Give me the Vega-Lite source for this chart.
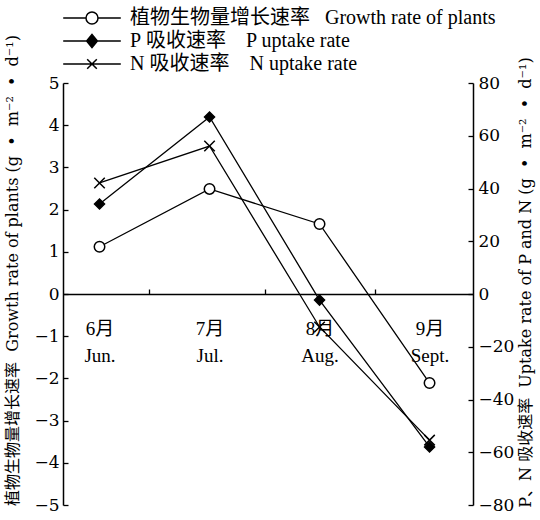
{
  "$schema": "https://vega.github.io/schema/vega-lite/v6.json",
  "width": 410,
  "height": 422,
  "autosize": {"type": "none"},
  "padding": {"left": 63, "top": 83, "right": 67, "bottom": 15},
  "background": "white",
  "config": {
    "view": {"stroke": null},
    "axis": {
      "labelFont": "DejaVu Serif",
      "titleFont": "DejaVu Serif, Noto Sans CJK SC",
      "labelColor": "black",
      "titleColor": "black",
      "domainColor": "black",
      "tickColor": "black",
      "grid": false,
      "labelFontSize": 17,
      "titleFontSize": 16,
      "titleFontWeight": "normal",
      "titleLimit": 800,
      "domainWidth": 1.5,
      "tickWidth": 1.3
    },
    "legend": {
      "symbolOpacity": 1,
      "symbolStrokeWidth": 1.5,
      "orient": "none",
      "legendX": 19,
      "legendY": -75,
      "title": null,
      "padding": 0,
      "rowPadding": 3,
      "symbolSize": 144,
      "labelOffset": 28,
      "labelFont": "Liberation Serif, Noto Sans CJK SC",
      "labelFontSize": 20,
      "labelColor": "black",
      "labelLimit": 500
    }
  },
  "data": {
    "values": [
      {"month": 6, "series": "G", "value": 1.12},
      {"month": 7, "series": "G", "value": 2.49},
      {"month": 8, "series": "G", "value": 1.66},
      {"month": 9, "series": "G", "value": -2.11},
      {"month": 6, "series": "P", "value": 34.1},
      {"month": 7, "series": "P", "value": 67.1},
      {"month": 8, "series": "P", "value": -2.3},
      {"month": 9, "series": "P", "value": -58},
      {"month": 6, "series": "N", "value": 42.1},
      {"month": 7, "series": "N", "value": 56.1},
      {"month": 8, "series": "N", "value": -12.5},
      {"month": 9, "series": "N", "value": -55.4}
    ]
  },
  "encoding": {
    "x": {
      "field": "month",
      "type": "quantitative",
      "scale": {"domain": [5.668, 9.395], "nice": false, "zero": false},
      "axis": {
        "title": null,
        "values": [6, 6.45, 7, 7.5, 8, 8.5, 9],
        "labelExpr": "datum.value==6?['6月','Jun.']:datum.value==7?['7月','Jul.']:datum.value==8?['8月','Aug.']:datum.value==9?['9月','Sept.']:''",
        "offset": -211,
        "tickSize": -5,
        "tickOpacity": {"condition": {"test": "datum.value % 1 !== 0", "value": 1}, "value": 0},
        "labelPadding": 30,
        "labelLineHeight": 27,
        "labelFont": "Liberation Serif, Noto Sans CJK SC",
        "labelFontSize": 19,
        "labelFlush": false,
        "labelOverlap": false
      }
    }
  },
  "layer": [
    {
      "encoding": {
        "y": {
          "field": "value",
          "type": "quantitative",
          "scale": {"domain": [-5, 5], "nice": false},
          "axis": {
            "orient": "left",
            "values": [-5, -4, -3, -2, -1, 0, 1, 2, 3, 4, 5],
            "tickSize": -5,
            "labelPadding": 9,
            "title": "植物生物量增长速率\u00a0\u00a0Growth rate of plants (g\u00a0\u00a0•\u00a0\u00a0m⁻²\u00a0\u00a0•\u00a0\u00a0d⁻¹)",
            "titleAngle": 270,
            "titleX": -51,
            "titleY": 187,
            "titleBaseline": "middle"
          }
        }
      },
      "layer": [
        {
          "transform": [{"filter": "datum.series == 'G'"}],
          "mark": {"type": "line", "color": "black", "strokeWidth": 1.3}
        },
        {
          "transform": [{"filter": "datum.series == 'G'"}],
          "mark": {"type": "point", "shape": "circle", "filled": true, "fill": "white", "stroke": "black", "strokeWidth": 1.5, "opacity": 1, "size": 110}
        },
        {
          "mark": {"type": "point", "filled": true, "strokeWidth": 1.5, "opacity": 0, "size": 144},
          "encoding": {
            "shape": {
              "field": "series", "type": "nominal",
              "scale": {"domain": ["G", "P", "N"], "range": [
                "M-4.8,0H-1M1,0H4.8M-1,0A1,1 0 1,0 1,0A1,1 0 1,0 -1,0Z",
                "M-4.8,0H4.8M0,-1.1L0.9,0L0,1.1L-0.9,0Z",
                "M-4.8,0H4.8M-0.8,-0.8L0.8,0.8M-0.8,0.8L0.8,-0.8"
              ]},
              "legend": {
                "labelExpr": "datum.value=='G'?'植物生物量增长速率\u00a0\u00a0\u00a0Growth rate of plants':datum.value=='P'?'P\u00a0吸收速率\u00a0\u00a0\u00a0\u00a0P uptake rate':'N\u00a0吸收速率\u00a0\u00a0\u00a0\u00a0N uptake rate'"
              }
            },
            "fill": {
              "field": "series", "type": "nominal",
              "scale": {"domain": ["G", "P", "N"], "range": ["white", "black", "transparent"]},
              "legend": {
                "labelExpr": "datum.value=='G'?'植物生物量增长速率\u00a0\u00a0\u00a0Growth rate of plants':datum.value=='P'?'P\u00a0吸收速率\u00a0\u00a0\u00a0\u00a0P uptake rate':'N\u00a0吸收速率\u00a0\u00a0\u00a0\u00a0N uptake rate'"
              }
            },
            "stroke": {
              "field": "series", "type": "nominal",
              "scale": {"domain": ["G", "P", "N"], "range": ["black", "black", "black"]},
              "legend": {
                "labelExpr": "datum.value=='G'?'植物生物量增长速率\u00a0\u00a0\u00a0Growth rate of plants':datum.value=='P'?'P\u00a0吸收速率\u00a0\u00a0\u00a0\u00a0P uptake rate':'N\u00a0吸收速率\u00a0\u00a0\u00a0\u00a0N uptake rate'"
              }
            }
          }
        }
      ]
    },
    {
      "encoding": {
        "y": {
          "field": "value",
          "type": "quantitative",
          "scale": {"domain": [-80, 80], "nice": false},
          "axis": {
            "orient": "right",
            "values": [-80, -60, -40, -20, 0, 20, 40, 60, 80],
            "tickSize": -5,
            "labelPadding": 10,
            "title": "P、N 吸收速率\u00a0\u00a0Uptake rate of P and N (g\u00a0\u00a0•\u00a0\u00a0m⁻²\u00a0\u00a0•\u00a0\u00a0d⁻¹)",
            "titleAngle": 270,
            "titleX": 52,
            "titleY": 199,
            "titleBaseline": "middle"
          }
        }
      },
      "layer": [
        {
          "transform": [{"filter": "datum.series != 'G'"}],
          "mark": {"type": "line", "color": "black", "strokeWidth": 1.3},
          "encoding": {"detail": {"field": "series"}}
        },
        {
          "transform": [{"filter": "datum.series == 'P'"}],
          "mark": {"type": "point", "shape": "diamond", "filled": true, "fill": "black", "stroke": "black", "strokeWidth": 1.5, "opacity": 1, "size": 100}
        },
        {
          "transform": [{"filter": "datum.series == 'N'"}],
          "mark": {"type": "point", "shape": "M-1,-1L1,1M-1,1L1,-1", "filled": false, "stroke": "black", "strokeWidth": 1.5, "opacity": 1, "size": 110}
        }
      ]
    }
  ],
  "resolve": {"scale": {"y": "independent"}}
}
